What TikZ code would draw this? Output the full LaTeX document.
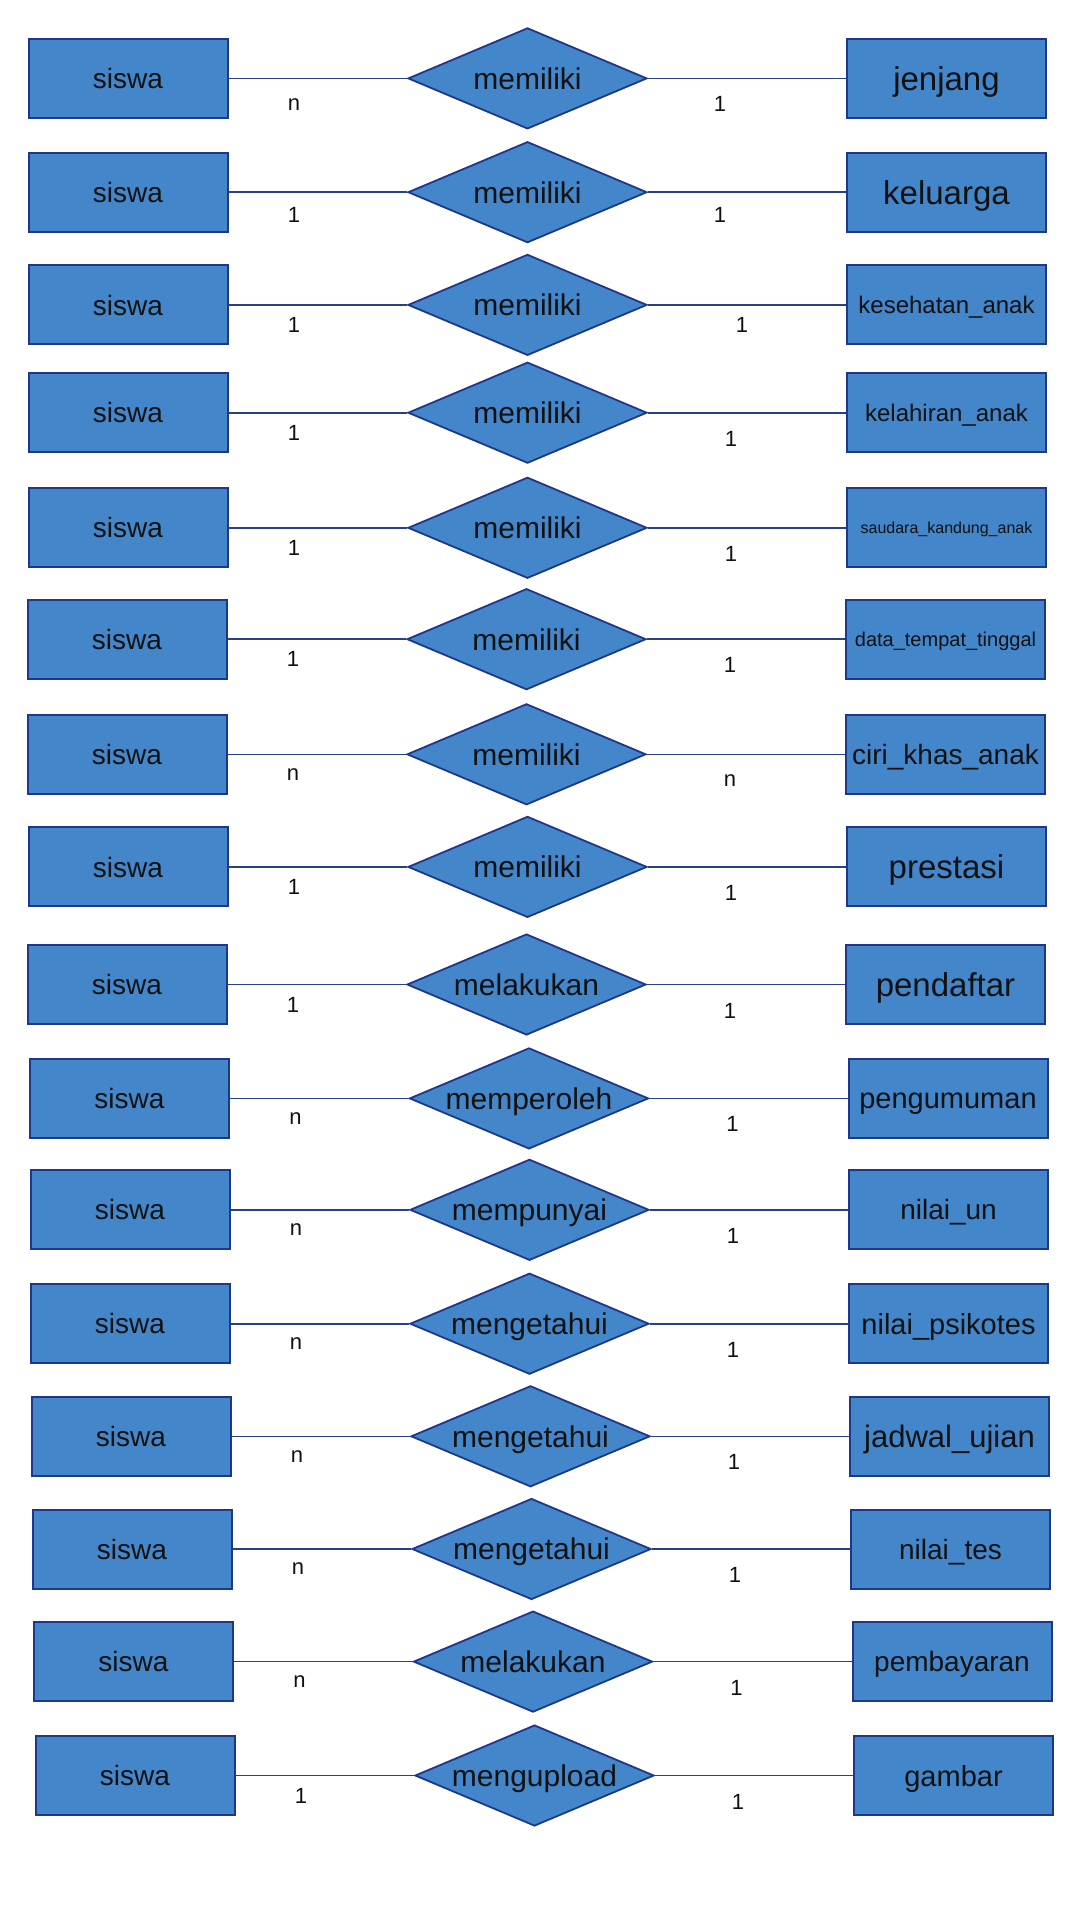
\documentclass[tikz,border=0pt]{standalone}
\usepackage{fontspec}
\setmainfont{Liberation Sans}
\usepackage{xcolor}
\usetikzlibrary{shapes.geometric}
\definecolor{cfill}{HTML}{4386C9}
\definecolor{cedge}{HTML}{1E378C}
\definecolor{clink}{HTML}{27408E}
\definecolor{ctext}{HTML}{111111}
\tikzset{
  ent/.style={draw=cedge, fill=cfill, line width=1pt, minimum width=99.5pt, minimum height=39.5pt,
    inner sep=0pt, text=ctext, text depth=0pt, execute at begin node={\vphantom{dl}},
    font=\fontsize{14}{16}\selectfont},
  rel/.style={diamond, draw=cedge, fill=cfill, line width=0.9pt, minimum width=119.5pt, minimum height=50.5pt,
    aspect=2.37, inner sep=0pt, text=ctext, text depth=0pt, execute at begin node={\vphantom{dl}},
    font=\fontsize{15}{17}\selectfont},
  link/.style={draw=clink, line width=0.8pt},
  card/.style={inner sep=0pt, text=ctext, font=\fontsize{11}{13}\selectfont},
}
\begin{document}
\begin{tikzpicture}[x=0.5pt,y=-0.5pt]
\useasboundingbox (0,0) rectangle (1080,1920);
% one row per relationship: siswa -- relation -- entity
\foreach \i/\y/\dx/\rel/\ent/\fs/\lc/\rc/\lo/\rx/\ro in {
  1/78.4/0/memiliki/jenjang/16.5/n/1/26/720/26,
  2/192.2/0/memiliki/keluarga/16.5/1/1/23/720/23,
  3/304.9/0/memiliki/kesehatan\_anak/12/1/1/20/742/20,
  4/412.7/0/memiliki/kelahiran\_anak/12/1/1/20/731/26,
  5/527.8/0/memiliki/saudara\_kandung\_anak/8/1/1/20/731/26,
  6/639.2/-1/memiliki/data\_tempat\_tinggal/10/1/1/20/731/26,
  7/754.3/-1/memiliki/ciri\_khas\_anak/14/n/n/20/731/26,
  8/866.9/0/memiliki/prestasi/16.5/1/1/20/731/26,
  9/984.5/-1/melakukan/pendaftar/16.5/1/1/20/731/26,
  10/1098.4/1.5/memperoleh/pengumuman/14.5/n/1/20/731/26,
  11/1209.8/2/mempunyai/nilai\_un/14/n/1/20/731/26,
  12/1323.7/2/mengetahui/nilai\_psikotes/14.5/n/1/20/731/26,
  13/1436.3/3/mengetahui/jadwal\_ujian/15.5/n/1/20/731/26,
  14/1549.0/4/mengetahui/nilai\_tes/14/n/1/20/731/26,
  15/1661.6/5.5/melakukan/pembayaran/14/n/1/20/731/26,
  16/1775.5/7/mengupload/gambar/14.5/1/1/20/731/26}
{
  \node[ent] (s\i) at (128+\dx,\y) {siswa};
  \node[rel] (r\i) at (527.5+\dx,\y) {\rel};
  \node[ent, font=\fontsize{\fs}{\fs}\selectfont] (e\i) at (946.5+\dx,\y) {\ent};
  \draw[link] (s\i) -- (r\i) -- (e\i);
  \node[card] (cl\i) at (294+\dx,\y+\lo) {\lc};
  \node[card] (cr\i) at (\rx+\dx,\y+\ro) {\rc};
}
\end{tikzpicture}
\end{document}
